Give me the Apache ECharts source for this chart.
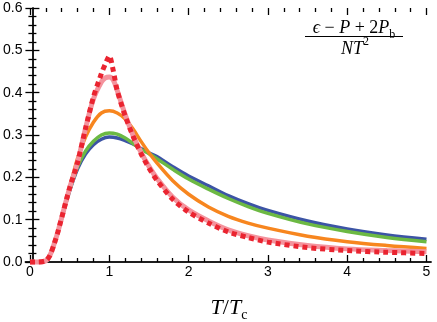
<!DOCTYPE html>
<html>
<head>
<meta charset="utf-8">
<script src="https://cdn.jsdelivr.net/npm/echarts@6/dist/echarts.min.js"></script>
<style>html,body{margin:0;padding:0;background:#fff}#c{width:437px;height:322px}</style>
</head>
<body>
<div id="c"></div>
<script>
// T/Tc sample points
var xBase = [0, 0.1, 0.2, 0.25, 0.3, 0.35, 0.4, 0.5, 0.6, 0.7, 0.8, 0.9, 1.0, 1.1, 1.2, 1.3, 1.4, 1.5, 1.6, 1.8, 2.0, 2.25, 2.5, 2.75, 3.0, 3.5, 4.0, 4.5, 5.0];
var blueY   = [0, 0, 0.003, 0.015, 0.04, 0.07, 0.104, 0.168, 0.220, 0.255, 0.277, 0.290, 0.295, 0.293, 0.287, 0.279, 0.268, 0.258, 0.249, 0.225, 0.203, 0.180, 0.157, 0.138, 0.122, 0.097, 0.078, 0.064, 0.054];
var greenY  = [0, 0, 0.003, 0.015, 0.04, 0.07, 0.104, 0.170, 0.225, 0.262, 0.285, 0.300, 0.305, 0.302, 0.293, 0.280, 0.266, 0.256, 0.244, 0.219, 0.196, 0.172, 0.150, 0.131, 0.115, 0.090, 0.072, 0.058, 0.048];
var orangeY = [0, 0, 0.003, 0.015, 0.04, 0.07, 0.105, 0.175, 0.245, 0.295, 0.330, 0.352, 0.357, 0.352, 0.338, 0.314, 0.285, 0.258, 0.234, 0.192, 0.160, 0.130, 0.108, 0.092, 0.080, 0.061, 0.048, 0.039, 0.032];
var xPeak = [0, 0.1, 0.2, 0.25, 0.3, 0.35, 0.4, 0.5, 0.6, 0.7, 0.8, 0.9, 0.95, 1.0, 1.05, 1.1, 1.2, 1.3, 1.4, 1.5, 1.6, 1.8, 2.0, 2.25, 2.5, 2.75, 3.0, 3.5, 4.0, 4.5, 5.0];
var pinkY   = [0, 0, 0.003, 0.015, 0.04, 0.07, 0.105, 0.175, 0.236, 0.315, 0.385, 0.425, 0.435, 0.437, 0.430, 0.405, 0.348, 0.299, 0.259, 0.226, 0.198, 0.153, 0.123, 0.097, 0.076, 0.062, 0.052, 0.039, 0.031, 0.027, 0.024];
var redY    = [0, 0, 0.003, 0.015, 0.04, 0.07, 0.105, 0.175, 0.235, 0.315, 0.390, 0.445, 0.468, 0.487, 0.452, 0.405, 0.345, 0.297, 0.256, 0.222, 0.193, 0.148, 0.118, 0.092, 0.071, 0.058, 0.047, 0.034, 0.027, 0.023, 0.020];
var xTicks = [0, 1, 2, 3, 4, 5];
var yTicks = [0, 0.1, 0.2, 0.3, 0.4, 0.5, 0.6];

function pairs(xs, ys) { return xs.map(function (x, i) { return [x, ys[i]]; }); }

var chart = echarts.init(document.getElementById('c'), null, {renderer: 'canvas'});
var frameLine = {show: true, lineStyle: {color: '#111', width: 1.5}};
var tickStyle = {color: '#000', width: 1.3};
var labelFont = {fontFamily: 'Liberation Sans, Arial, sans-serif', fontSize: 14, color: '#000'};
var serif = 'Liberation Serif, Times New Roman, serif';
var majorLen = 7, minorLen = 4;

var G = {top: 8, bottom: 60};
var option = {
  animation: false,
  grid: [
    {left: 23, right: 6, top: G.top, bottom: G.bottom},
    {left: 30, right: 10.5, top: G.top, bottom: G.bottom}
  ],
  xAxis: [
    {gridIndex: 0, type: 'value', min: -0.088, max: 5.05, position: 'bottom', axisLine: frameLine, axisTick: {show: false}, axisLabel: {show: false}, splitLine: {show: false}},
    {gridIndex: 0, type: 'value', min: -0.088, max: 5.05, position: 'top', axisLine: frameLine, axisTick: {show: false}, axisLabel: {show: false}, splitLine: {show: false}},
    {gridIndex: 1, type: 'value', min: 0, max: 5, interval: 1, position: 'bottom', axisLine: {show: false},
      axisTick: {show: true, inside: true, length: majorLen, lineStyle: tickStyle},
      minorTick: {show: true, splitNumber: 5, length: minorLen, lineStyle: tickStyle},
      axisLabel: Object.assign({margin: 3, formatter: function (v) { return xTicks.indexOf(v) >= 0 ? String(v) : ''; }}, labelFont),
      splitLine: {show: false}},
    {gridIndex: 1, type: 'value', min: 0, max: 5, interval: 1, position: 'top', axisLine: {show: false},
      axisTick: {show: true, inside: true, length: majorLen, lineStyle: tickStyle},
      minorTick: {show: true, splitNumber: 5, length: minorLen, lineStyle: tickStyle},
      axisLabel: {show: false}, splitLine: {show: false}}
  ],
  yAxis: [
    {gridIndex: 0, type: 'value', min: 0, max: 0.6, interval: 0.1, position: 'left', axisLine: frameLine,
      axisTick: {show: true, inside: true, length: majorLen, lineStyle: tickStyle},
      minorTick: {show: true, splitNumber: 5, length: minorLen, lineStyle: tickStyle},
      axisLabel: Object.assign({margin: 3, formatter: function (v) { return v.toFixed(1); }}, labelFont),
      splitLine: {show: false}},
    {gridIndex: 0, type: 'value', min: 0, max: 0.6, interval: 0.1, position: 'right', axisLine: frameLine,
      axisTick: {show: true, inside: true, length: majorLen, lineStyle: tickStyle},
      minorTick: {show: true, splitNumber: 5, length: minorLen, lineStyle: tickStyle},
      axisLabel: {show: false}, splitLine: {show: false}},
    {gridIndex: 1, type: 'value', min: 0, max: 0.6, show: false}
  ],
  series: [
    {type: 'line', xAxisIndex: 2, yAxisIndex: 2, data: pairs(xBase, blueY), showSymbol: false, smooth: 0.35, clip: false,
      lineStyle: {color: '#3c54a5', width: 3.5}},
    {type: 'line', xAxisIndex: 2, yAxisIndex: 2, data: pairs(xBase, greenY), showSymbol: false, smooth: 0.35, clip: false,
      lineStyle: {color: '#6cb943', width: 3.5}},
    {type: 'line', xAxisIndex: 2, yAxisIndex: 2, data: pairs(xBase, orangeY), showSymbol: false, smooth: 0.35, clip: false,
      lineStyle: {color: '#f7861f', width: 3.5}},
    {type: 'line', xAxisIndex: 2, yAxisIndex: 2, data: pairs(xPeak, pinkY), showSymbol: false, smooth: 0.35, clip: false,
      lineStyle: {color: '#f4939d', width: 5}},
    {type: 'line', xAxisIndex: 2, yAxisIndex: 2, data: pairs(xPeak, redY), showSymbol: false, smooth: 0.25, clip: false,
      lineStyle: {color: '#ea2430', width: 5, type: [5, 4]}}
  ],
  graphic: [
    {type: 'text', x: 354, y: 15, style: {
      text: '{i|ϵ}{n| − }{i|P}{n| + 2}{i|P}{s|b}',
      align: 'center',
      rich: {
        i: {fontFamily: serif, fontStyle: 'italic', fontSize: 18, lineHeight: 26, verticalAlign: 'middle', fill: '#000'},
        n: {fontFamily: serif, fontSize: 18, lineHeight: 26, verticalAlign: 'middle', fill: '#000'},
        s: {fontFamily: serif, fontSize: 12, lineHeight: 14, verticalAlign: 'bottom', fill: '#000'}
      }}},
    {type: 'line', shape: {x1: 305, y1: 36.5, x2: 403, y2: 36.5}, style: {stroke: '#000', lineWidth: 1}},
    {type: 'text', x: 355, y: 36, style: {
      text: '{i|NT}{p|2}',
      align: 'center',
      rich: {
        i: {fontFamily: serif, fontStyle: 'italic', fontSize: 18, lineHeight: 26, verticalAlign: 'middle', fill: '#000'},
        p: {fontFamily: serif, fontSize: 12, lineHeight: 12, verticalAlign: 'top', fill: '#000'}
      }}},
    {type: 'text', x: 229, y: 294, style: {
      text: '{i|T}{n|/}{i|T}{s|c}',
      align: 'center',
      rich: {
        i: {fontFamily: serif, fontStyle: 'italic', fontSize: 22, lineHeight: 28, verticalAlign: 'middle', fill: '#000'},
        n: {fontFamily: serif, fontSize: 22, lineHeight: 28, verticalAlign: 'middle', fill: '#000'},
        s: {fontFamily: serif, fontSize: 14, lineHeight: 15, verticalAlign: 'bottom', fill: '#000'}
      }}}
  ]
};
chart.setOption(option);
</script>
</body>
</html>
